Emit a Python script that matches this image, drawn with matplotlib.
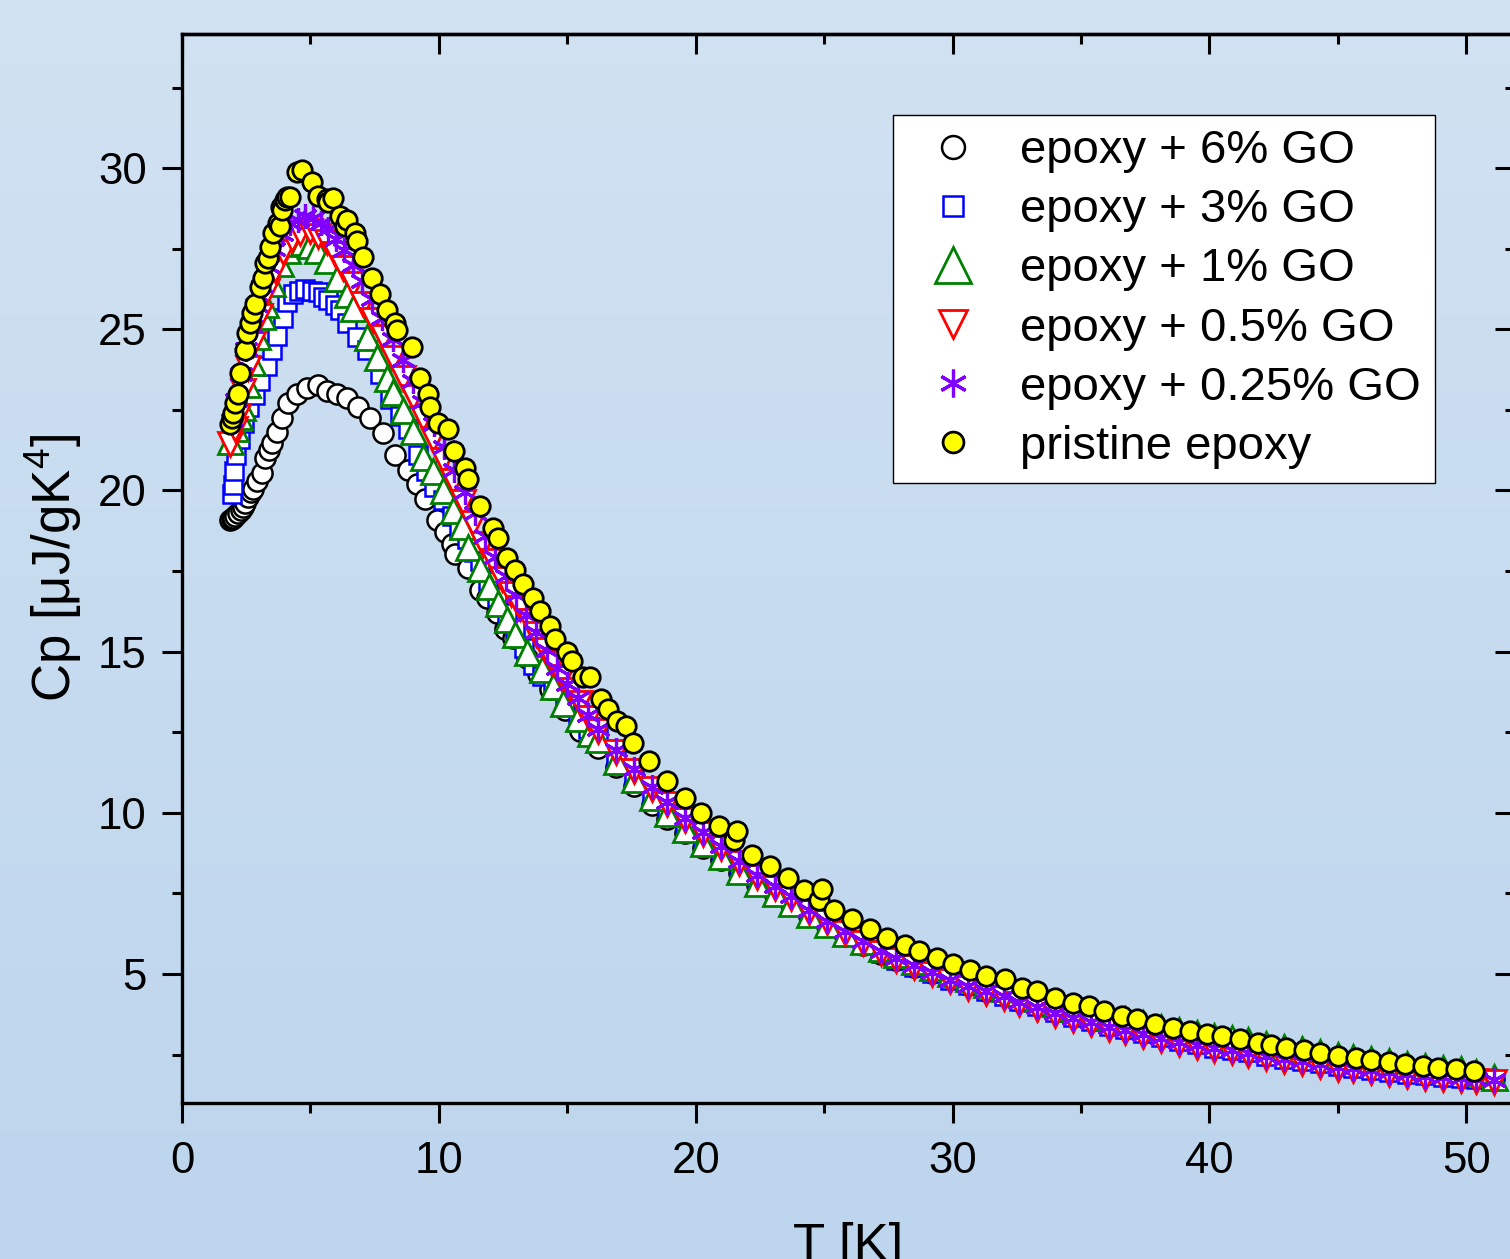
import matplotlib
matplotlib.use("Agg")
import matplotlib.pyplot as plt
import numpy as np
from matplotlib.colors import LinearSegmentedColormap
from matplotlib.ticker import MultipleLocator, NullFormatter

plt.rcParams["font.family"] = ["Liberation Sans", "DejaVu Sans"]
plt.rcParams["mathtext.fontset"] = "custom"
plt.rcParams["mathtext.rm"] = "Liberation Sans"
plt.rcParams["mathtext.it"] = "Liberation Sans:italic"

# common temperature grid of the high-T tail (K)
T_TAIL = [16.2, 16.9, 17.6, 18.3, 18.9, 19.6, 20.3, 21.0, 21.7, 22.4,
          23.1, 23.7, 24.4, 25.1, 25.8, 26.5, 27.2, 27.8, 28.5, 29.2,
          29.9, 30.6, 31.3, 32.0, 32.6, 33.3, 34.0, 34.7, 35.4, 36.1,
          36.7, 37.4, 38.1, 38.8, 39.5, 40.2, 40.9, 41.5, 42.2, 42.9,
          43.6, 44.3, 45.0, 45.6, 46.3, 47.0, 47.7, 48.4, 49.1, 49.8,
          50.4, 51.1]

# epoxy + 6% GO
T_GO6 = [1.87, 1.93, 1.99, 2.08, 2.18, 2.28, 2.38, 2.47, 2.57, 2.67,
         2.77, 2.92, 3.1, 3.23, 3.37, 3.5, 3.7, 3.9, 4.13, 4.48,
         4.87, 5.3, 5.65, 6.03, 6.42, 6.85, 7.32, 7.83, 8.3, 8.8,
         9.15, 9.46, 9.93, 10.25, 10.5, 10.63, 11.14, 11.6, 11.88, 12.25,
         12.58, 12.89, 13.43, 13.85, 14.33, 14.9, 15.5]
CP_GO6 = [19.07, 19.1, 19.15, 19.22, 19.3, 19.38, 19.5, 19.62, 19.8, 19.95,
          20.06, 20.3, 20.55, 21.0, 21.25, 21.46, 21.8, 22.25, 22.7, 23.0,
          23.17, 23.26, 23.1, 23.0, 22.86, 22.58, 22.24, 21.77, 21.1, 20.62,
          20.2, 19.75, 19.07, 18.7, 18.35, 18.04, 17.6, 16.9, 16.65, 16.2,
          15.7, 15.43, 14.81, 14.3, 13.85, 13.2, 12.55]
CP_GO6_TAIL = [12.0, 11.42, 10.82, 10.25, 9.8, 9.36, 8.92, 8.54, 8.12, 7.76,
               7.45, 7.16, 6.79, 6.48, 6.19, 5.91, 5.63, 5.44, 5.23, 5.03,
               4.84, 4.66, 4.48, 4.35, 4.17, 4.03, 3.85, 3.71, 3.58, 3.43,
               3.31, 3.2, 3.08, 2.96, 2.86, 2.75, 2.67, 2.6, 2.5, 2.41,
               2.34, 2.26, 2.17, 2.12, 2.06, 2.0, 1.94, 1.89, 1.84, 1.8,
               1.76, 1.73]

# epoxy + 3% GO
T_GO3 = [1.95, 2.0, 2.02, 2.12, 2.25, 2.4, 2.6, 2.84, 3.05, 3.3,
         3.5, 3.7, 3.93, 4.1, 4.32, 4.55, 4.8, 5.05, 5.28, 5.5,
         5.7, 5.95, 6.15, 6.42, 6.8, 7.2, 7.7, 8.1, 8.5, 8.8,
         9.2, 9.5, 9.8, 10.15, 10.5, 10.8, 11.1, 11.35, 11.6, 11.9,
         12.25, 12.65, 12.95, 13.3, 13.65, 14.0, 14.45, 14.9, 15.4, 15.8]
CP_GO3 = [19.9, 20.16, 20.6, 21.1, 21.6, 22.1, 22.6, 22.95, 23.4, 23.85,
          24.35, 24.8, 25.35, 25.85, 26.1, 26.2, 26.25, 26.2, 26.15, 26.0,
          25.9, 25.75, 25.6, 25.2, 24.75, 24.35, 23.6, 22.85, 22.3, 21.9,
          21.1, 20.6, 20.1, 19.7, 19.2, 18.8, 18.5, 18.1, 17.8, 17.2,
          16.7, 16.2, 15.7, 15.1, 14.6, 14.25, 13.85, 13.4, 12.9, 12.6]
CP_GO3_TAIL = [12.35, 11.73, 11.07, 10.43, 9.98, 9.5, 9.02, 8.63, 8.2, 7.82,
               7.5, 7.2, 6.81, 6.5, 6.2, 5.92, 5.64, 5.44, 5.23, 5.02,
               4.83, 4.65, 4.47, 4.33, 4.15, 4.01, 3.82, 3.68, 3.55, 3.4,
               3.28, 3.17, 3.05, 2.93, 2.83, 2.72, 2.64, 2.57, 2.47, 2.38,
               2.31, 2.23, 2.14, 2.09, 2.03, 1.97, 1.91, 1.86, 1.81, 1.77,
               1.73, 1.7]

# epoxy + 1% GO
T_GO1 = [1.87, 2.05, 2.2, 2.34, 2.53, 2.73, 2.92, 3.1, 3.23, 3.5,
         3.82, 4.09, 4.32, 4.71, 5.0, 5.26, 5.65, 6.03, 6.42, 6.66,
         7.2, 7.59, 7.98, 8.2, 8.6, 9.0, 9.4, 9.77, 10.16, 10.55,
         10.9, 11.14, 11.6, 11.95, 12.3, 12.65, 12.97, 13.43, 14.0, 14.45,
         14.85, 15.4, 15.9]
CP_GO1 = [21.55, 21.95, 22.3, 22.6, 23.3, 24.0, 24.8, 25.4, 25.8, 26.45,
          27.05, 27.45, 27.67, 27.72, 27.6, 27.45, 27.15, 26.6, 26.1, 25.65,
          24.75, 24.13, 23.5, 23.05, 22.5, 21.85, 21.05, 20.6, 20.0, 19.4,
          18.9, 18.25, 17.6, 17.05, 16.5, 16.0, 15.56, 15.0, 14.45, 13.95,
          13.42, 12.95, 12.48]
CP_GO1_TAIL = [12.3, 11.6, 11.05, 10.5, 10.0, 9.5, 9.05, 8.65, 8.2, 7.83,
               7.5, 7.2, 6.85, 6.55, 6.28, 6.03, 5.8, 5.62, 5.42, 5.23,
               5.03, 4.87, 4.7, 4.58, 4.4, 4.27, 4.09, 3.96, 3.85, 3.71,
               3.6, 3.49, 3.37, 3.26, 3.17, 3.09, 3.02, 2.95, 2.84, 2.75,
               2.67, 2.58, 2.5, 2.43, 2.36, 2.29, 2.22, 2.16, 2.1, 2.04,
               1.95, 1.82]

# epoxy + 0.5% GO
T_GO05 = [1.87, 2.05, 2.18, 2.38, 2.57, 2.77, 3.04, 3.3, 3.62, 3.93,
          4.28, 4.6, 5.0, 5.3, 5.65, 5.96, 6.27, 6.66, 7.05, 7.44,
          7.83, 8.22, 8.6, 9.0, 9.38, 9.77, 10.16, 10.55, 10.94, 11.33,
          11.7, 12.1, 12.45, 12.8, 13.16, 13.5, 13.8, 14.15, 14.45, 14.8,
          15.15, 15.5, 15.85]
CP_GO05 = [21.45, 21.9, 22.3, 23.1, 23.8, 24.55, 25.4, 26.2, 26.85, 27.4,
           27.8, 28.0, 28.05, 27.9, 27.7, 27.35, 26.9, 26.4, 25.8, 25.3,
           24.75, 24.1, 23.5, 22.9, 22.25, 21.6, 20.95, 20.3, 19.65, 19.0,
           18.35, 17.8, 17.25, 16.8, 16.35, 15.95, 15.55, 15.05, 14.65, 14.2,
           13.8, 13.4, 12.95]
CP_GO05_TAIL = [12.54, 11.89, 11.29, 10.74, 10.29, 9.79, 9.34, 8.9, 8.44, 8.02,
                7.68, 7.36, 6.94, 6.6, 6.27, 5.97, 5.66, 5.44, 5.21, 4.99,
                4.77, 4.58, 4.4, 4.25, 4.06, 3.91, 3.72, 3.58, 3.46, 3.31,
                3.19, 3.08, 2.96, 2.84, 2.74, 2.64, 2.57, 2.5, 2.4, 2.31,
                2.24, 2.16, 2.07, 2.02, 1.96, 1.9, 1.84, 1.79, 1.74, 1.71,
                1.68, 1.66]

# epoxy + 0.25% GO
T_GO025 = [1.95, 2.1, 2.3, 2.5, 2.7, 2.9, 3.1, 3.35, 3.6, 3.9,
           4.2, 4.5, 4.8, 5.1, 5.4, 5.7, 6.0, 6.3, 6.65, 7.0,
           7.4, 7.8, 8.2, 8.6, 9.0, 9.4, 9.8, 10.2, 10.6, 11.0,
           11.4, 11.8, 12.2, 12.6, 13.0, 13.4, 13.8, 14.2, 14.6, 15.0,
           15.4, 15.8]
CP_GO025 = [22.2, 22.8, 23.6, 24.4, 25.1, 25.75, 26.35, 26.95, 27.5, 27.95,
            28.3, 28.4, 28.5, 28.45, 28.3, 28.1, 27.8, 27.45, 27.0, 26.5,
            25.95, 25.35, 24.7, 24.05, 23.4, 22.75, 22.05, 21.35, 20.65, 19.95,
            19.3, 18.6, 17.95, 17.35, 16.75, 16.15, 15.6, 15.05, 14.5, 14.0,
            13.55, 13.05]
CP_GO025_TAIL = [12.6, 11.95, 11.35, 10.8, 10.35, 9.85, 9.4, 8.96, 8.5, 8.08,
                 7.74, 7.42, 7.0, 6.65, 6.33, 6.03, 5.72, 5.5, 5.27, 5.05,
                 4.83, 4.64, 4.46, 4.31, 4.12, 3.97, 3.78, 3.64, 3.52, 3.37,
                 3.25, 3.14, 3.02, 2.9, 2.8, 2.7, 2.63, 2.56, 2.46, 2.37,
                 2.3, 2.22, 2.13, 2.08, 2.02, 1.96, 1.9, 1.85, 1.8, 1.77,
                 1.74, 1.72]

# pristine epoxy
T_PRISTINE = [1.87, 1.93, 1.99, 2.06, 2.18, 2.26, 2.45, 2.53, 2.65, 2.73,
              2.84, 3.04, 3.15, 3.23, 3.35, 3.43, 3.54, 3.74, 3.8, 3.86,
              3.9, 4.0, 4.09, 4.2, 4.48, 4.67, 5.06, 5.3, 5.65, 5.7,
              5.88, 6.15, 6.35, 6.42, 6.74, 6.8, 7.05, 7.4, 7.7, 8.0,
              8.3, 8.37, 8.96, 9.27, 9.58, 9.66, 9.97, 10.36, 10.58, 11.02,
              11.14, 11.6, 12.1, 12.3, 12.65, 12.97, 13.28, 13.67, 13.94, 14.33,
              14.52, 15.0, 15.2, 15.62, 15.9, 16.3, 16.6, 16.95, 17.3, 17.56,
              18.2, 18.9, 19.6, 20.2, 20.9, 21.5, 21.6, 22.2, 22.9, 23.6,
              24.2, 24.8, 24.9, 25.4, 26.1, 26.8, 27.45, 28.15, 28.7, 29.4,
              30.0, 30.7, 31.3, 32.05, 32.7, 33.3, 34.0, 34.7, 35.3, 35.9,
              36.6, 37.2, 37.9, 38.6, 39.25, 39.9, 40.5, 41.2, 41.9, 42.4,
              43.0, 43.7, 44.3, 45.0, 45.7, 46.3, 47.0, 47.6, 48.3, 48.9,
              49.6, 50.3]
CP_PRISTINE = [22.05, 22.25, 22.4, 22.7, 23.0, 23.65, 24.35, 24.9, 25.2, 25.5,
               25.8, 26.3, 26.6, 27.05, 27.2, 27.55, 28.0, 28.3, 28.2, 28.8,
               28.7, 29.0, 29.1, 29.1, 29.88, 29.94, 29.57, 29.15, 29.05, 28.94,
               29.07, 28.5, 28.2, 28.4, 27.98, 27.75, 27.24, 26.6, 26.1, 25.6,
               25.2, 24.97, 24.45, 23.5, 23.0, 22.6, 22.1, 21.9, 21.24, 20.71,
               20.37, 19.53, 18.85, 18.54, 17.92, 17.52, 17.11, 16.65, 16.27, 15.8,
               15.4, 15.0, 14.7, 14.22, 14.2, 13.54, 13.23, 12.86, 12.7, 12.17,
               11.6, 11.0, 10.47, 10.0, 9.6, 9.15, 9.45, 8.7, 8.35, 7.97,
               7.6, 7.3, 7.65, 7.0, 6.7, 6.4, 6.12, 5.9, 5.7, 5.5,
               5.3, 5.12, 4.95, 4.84, 4.57, 4.47, 4.25, 4.1, 4.0, 3.85,
               3.7, 3.6, 3.45, 3.33, 3.23, 3.14, 3.07, 2.98, 2.86, 2.8,
               2.72, 2.64, 2.56, 2.47, 2.4, 2.34, 2.27, 2.21, 2.15, 2.09,
               2.05, 2.0]

LABELS = ["epoxy + 6% GO", "epoxy + 3% GO", "epoxy + 1% GO",
          "epoxy + 0.5% GO", "epoxy + 0.25% GO", "pristine epoxy"]

SERIES = [
    (T_GO6 + T_TAIL, CP_GO6 + CP_GO6_TAIL,
     dict(marker="o", ms=14.5, mfc="white", mec="black", mew=1.8)),
    (T_GO3 + T_TAIL, CP_GO3 + CP_GO3_TAIL,
     dict(marker="s", ms=13, mfc="white", mec="#0000ff", mew=1.8)),
    (T_GO1 + T_TAIL, CP_GO1 + CP_GO1_TAIL,
     dict(marker="^", ms=18, mfc="white", mec="#008000", mew=2.0)),
    (T_GO05 + T_TAIL, CP_GO05 + CP_GO05_TAIL,
     dict(marker="v", ms=17, mfc="white", mec="#ff0000", mew=2.0)),
    (T_GO025 + T_TAIL, CP_GO025 + CP_GO025_TAIL,
     dict(marker=(6, 2, 0), ms=18, mec="#8000ff", mew=2.3)),
    (T_PRISTINE, CP_PRISTINE,
     dict(marker="o", ms=14, mfc="#ffff00", mec="black", mew=2.0)),
]
LEGEND_MS = [16.5, 14.5, 26, 20, 20, 15]

W, H = 1510, 1259
fig = plt.figure(figsize=(W / 100, H / 100), dpi=100)

# light-blue vertical gradient behind everything
bg = fig.add_axes([0, 0, 1, 1], zorder=-10)
cmap = LinearSegmentedColormap.from_list("bg", ["#bdd5ed", "#d1e2f2"])
bg.imshow(np.linspace(0, 1, 256)[:, None], aspect="auto", cmap=cmap,
          origin="lower", extent=(0, 1, 0, 1))
bg.axis("off")

ax = fig.add_axes([182 / W, 156 / H, 1333 / W, 1069 / H])
ax.patch.set_alpha(0)

for (t, cp, style), label in zip(SERIES, LABELS):
    ax.plot(t, cp, linestyle="none", label=label, **style)

ax.set_xlim(0, 51.9)
ax.set_ylim(1.0, 34.16)
ax.xaxis.set_major_locator(MultipleLocator(10))
ax.xaxis.set_minor_locator(MultipleLocator(5))
ax.yaxis.set_major_locator(MultipleLocator(5))
ax.yaxis.set_minor_locator(MultipleLocator(2.5))
ax.tick_params(which="both", direction="out", width=2.2, labelsize=31.5,
               top=False, right=False)
ax.tick_params(which="major", length=14.4)
ax.tick_params(which="minor", length=7.2)
ax.tick_params(axis="x", pad=13)
ax.tick_params(axis="y", pad=11)
for spine in ax.spines.values():
    spine.set_linewidth(2.4)

# inward ticks on the top and right frame
for sec, where in ((ax.secondary_xaxis("top"), "x"),
                   (ax.secondary_yaxis("right"), "y")):
    axis = sec.xaxis if where == "x" else sec.yaxis
    axis.set_major_locator(MultipleLocator(10 if where == "x" else 5))
    axis.set_minor_locator(MultipleLocator(5 if where == "x" else 2.5))
    axis.set_major_formatter(NullFormatter())
    sec.tick_params(which="both", direction="in", width=2.2)
    sec.tick_params(which="major", length=14.4)
    sec.tick_params(which="minor", length=7.2)
    for spine in sec.spines.values():
        spine.set_linewidth(2.4)

# the original figure is cropped just below the x-axis title
ax.set_xlabel("T [K]", fontsize=38, labelpad=29)
ax.set_ylabel("Cp [μJ/gK$^4$]", fontsize=38, labelpad=10)

leg = ax.legend(loc="upper left", bbox_to_anchor=(893 / W, 1 - 115 / H),
                bbox_transform=fig.transFigure, borderaxespad=0, fontsize=34,
                fancybox=False, edgecolor="black", framealpha=1,
                borderpad=0.3, handlelength=1.95, handletextpad=0.45,
                labelspacing=0.32, numpoints=1)
leg.get_frame().set_linewidth(1.0)
for handle, ms in zip(leg.legend_handles, LEGEND_MS):
    handle.set_markersize(ms)

fig.savefig("out.png", dpi=100)
